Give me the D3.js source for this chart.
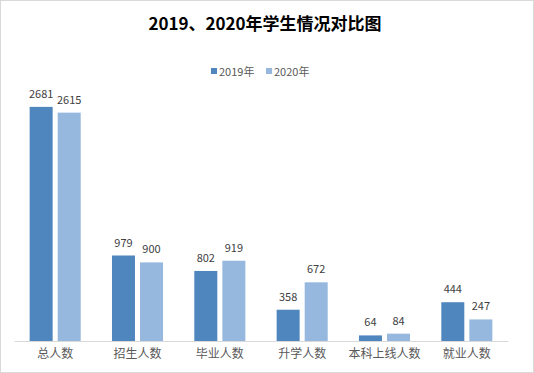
<!DOCTYPE html>
<html>
<head>
<meta charset="utf-8">
<script src="https://cdn.jsdelivr.net/npm/d3@7"></script>
<style>
  body { margin: 0; background: #fff; }
  text { font-family: "Noto Sans CJK SC", "Liberation Sans", sans-serif; }
</style>
</head>
<body>
<div id="chart"></div>
<script>
// data
var categories = ["总人数", "招生人数", "毕业人数", "升学人数", "本科上线人数", "就业人数"];
var seriesNames = ["2019年", "2020年"];
var values2019 = [2681, 979, 802, 358, 64, 444];
var values2020 = [2615, 900, 919, 672, 84, 247];
var colors = ["#4f86bd", "#96b8de"];

var W = 534, H = 373;
var svg = d3.select("#chart").append("svg")
    .attr("width", W)
    .attr("height", H);

// border
svg.append("rect")
    .attr("x", 0.5).attr("y", 0.5)
    .attr("width", W - 1).attr("height", H - 1)
    .attr("fill", "#fff")
    .attr("stroke", "#d9d9d9");

// title
svg.append("text")
    .attr("x", W / 2 - 2).attr("y", 30)
    .attr("text-anchor", "middle")
    .attr("font-size", 17)
    .attr("font-weight", "bold")
    .attr("fill", "#000")
    .text("2019、2020年学生情况对比图");

// scales
var x0 = d3.scaleBand()
    .domain(categories)
    .range([14, 508])
    .paddingInner(0.38)
    .paddingOuter(0.19);

var x1 = d3.scaleBand()
    .domain(seriesNames)
    .range([0, x0.bandwidth()])
    .paddingInner(0.18);

var y = d3.scaleLinear()
    .domain([0, 3000])
    .range([341, 79]);

var rows = categories.map(function(c, i) {
    return { cat: c, vals: [values2019[i], values2020[i]] };
});

var groups = svg.selectAll(".grp")
    .data(rows)
    .enter().append("g")
    .attr("transform", function(d) { return "translate(" + x0(d.cat) + ",0)"; });

groups.selectAll("rect")
    .data(function(d) { return d.vals.map(function(v, j) { return { s: seriesNames[j], v: v, j: j }; }); })
    .enter().append("rect")
    .attr("x", function(d) { return x1(d.s); })
    .attr("y", function(d) { return y(d.v); })
    .attr("width", x1.bandwidth())
    .attr("height", function(d) { return y(0) - y(d.v); })
    .attr("fill", function(d) { return colors[d.j]; });

// value labels
groups.selectAll(".lbl")
    .data(function(d) { return d.vals.map(function(v, j) { return { s: seriesNames[j], v: v }; }); })
    .enter().append("text")
    .attr("x", function(d) { return x1(d.s) + x1.bandwidth() / 2; })
    .attr("y", function(d) { return y(d.v) - 9; })
    .attr("text-anchor", "middle")
    .attr("font-size", 11)
    .attr("fill", "#404040")
    .text(function(d) { return d.v; });

// x axis
var xAxis = svg.append("g")
    .attr("transform", "translate(0," + y(0) + ")")
    .call(d3.axisBottom(x0).tickSize(0).tickSizeOuter(0));
xAxis.select(".domain").attr("stroke", "#d9d9d9");
xAxis.selectAll("text")
    .attr("font-size", 12)
    .attr("fill", "#595959")
    .attr("dy", "1.2em")
    .style("font-family", "'Noto Sans CJK SC', sans-serif");

// legend
var legend = svg.append("g");
var legX = [211, 266];
seriesNames.forEach(function(s, j) {
    legend.append("rect")
        .attr("x", legX[j]).attr("y", 68)
        .attr("width", 6).attr("height", 6)
        .attr("fill", colors[j]);
    legend.append("text")
        .attr("x", legX[j] + 8).attr("y", 75.5)
        .attr("font-size", 11)
        .attr("fill", "#595959")
        .text(s);
});
</script>
</body>
</html>
